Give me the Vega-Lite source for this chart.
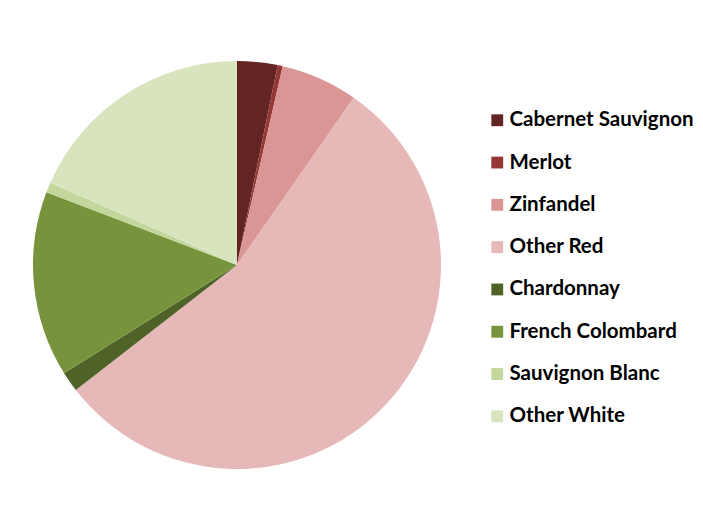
{
  "$schema": "https://vega.github.io/schema/vega-lite/v6.json",
  "width": 464,
  "height": 520,
  "padding": {"left": 5, "top": 5, "right": 234, "bottom": 0},
  "autosize": {"type": "none"},
  "background": "white",
  "view": {"stroke": null},
  "data": {
    "values": [
      {"variety": "Cabernet Sauvignon", "share": 3.2, "rank": 1},
      {"variety": "Merlot", "share": 0.4, "rank": 2},
      {"variety": "Zinfandel", "share": 6.1, "rank": 3},
      {"variety": "Other Red", "share": 54.8, "rank": 4},
      {"variety": "Chardonnay", "share": 1.6, "rank": 5},
      {"variety": "French Colombard", "share": 14.7, "rank": 6},
      {"variety": "Sauvignon Blanc", "share": 0.8, "rank": 7},
      {"variety": "Other White", "share": 18.4, "rank": 8}
    ]
  },
  "mark": {"type": "arc", "outerRadius": 204},
  "encoding": {
    "theta": {"field": "share", "type": "quantitative", "stack": true},
    "order": {"field": "rank", "type": "quantitative"},
    "color": {
      "field": "variety",
      "type": "nominal",
      "sort": null,
      "scale": {
        "domain": ["Cabernet Sauvignon", "Merlot", "Zinfandel", "Other Red", "Chardonnay", "French Colombard", "Sauvignon Blanc", "Other White"],
        "range": ["#632523", "#953735", "#D99694", "#E6B9B8", "#4F6228", "#77933C", "#C3D69B", "#D7E4BD"]
      },
      "legend": {
        "title": null,
        "orient": "none",
        "legendX": 482,
        "legendY": 105,
        "padding": 0,
        "symbolType": "square",
        "symbolSize": 140,
        "symbolStrokeWidth": 0,
        "symbolOffset": 0,
        "labelFont": "Lato",
        "labelFontWeight": "bold",
        "labelFontSize": 20.5,
        "labelColor": "#000000",
        "labelOffset": 2,
        "labelLimit": 300,
        "rowPadding": 21.3
      }
    }
  }
}
